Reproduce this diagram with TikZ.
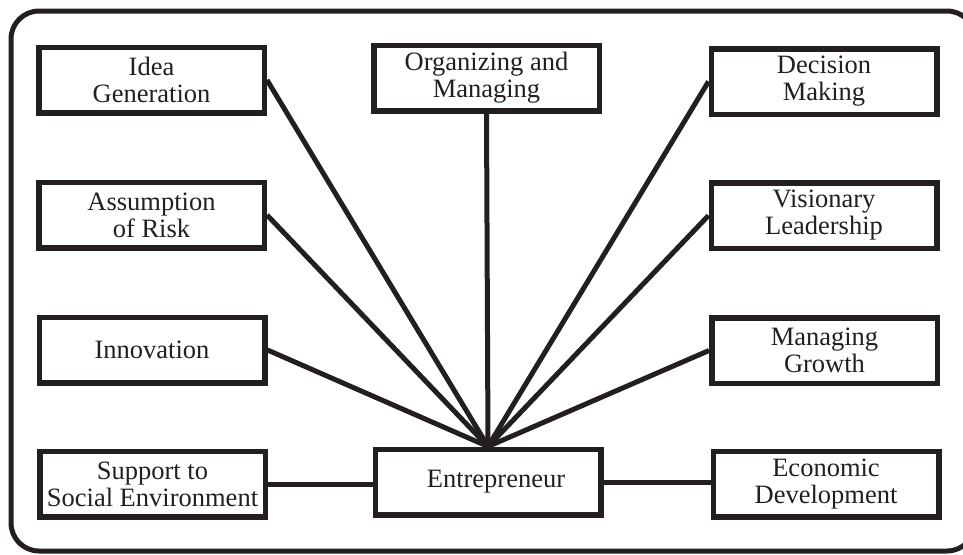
\documentclass[tikz,border=0pt]{standalone}
\usepackage{fontspec}
\setmainfont{Liberation Serif}
\definecolor{ink}{RGB}{35,31,32}
\begin{document}
\begin{tikzpicture}[x=1pt,y=-1pt,
  role/.style={draw=ink, text=ink, line width=5.5pt, minimum width=225.5pt,
    minimum height=65.5pt, inner sep=0pt, align=center, fill=white,
    font=\fontsize{26.5}{27}\selectfont},
  link/.style={draw=ink, line width=5pt}]
\clip (0,0) rectangle (963,554);
% outer frame
\draw[ink, line width=5pt, rounded corners=28pt] (11,11) rectangle (975,551);
% left column
\node[role] (idea) at (151.5,80)  {Idea\\Generation};
\node[role] (risk) at (151.5,215) {Assumption\\of Risk};
\node[role] (inno) at (152,350)   {Innovation};
\node[role] (sup)  at (152.5,484) {Support to\\Social Environment};
% middle column
\node[role] (org)  at (486.5,78)  {Organizing and\\Managing};
\node[role] (ent)  at (488,482)   {\hspace*{16pt}Entrepreneur};
% right column
\node[role] (dec)  at (824,81.5)  {Decision\\Making};
\node[role] (vis)  at (824,215.5) {Visionary\\Leadership};
\node[role] (grow) at (824.5,350.5) {Managing\\Growth};
\node[role] (eco)  at (826,484)   {Economic\\Development};
% fan of links into the entrepreneur
\draw[link] (idea.east) -- (ent.north);
\draw[link] (risk.east) -- (ent.north);
\draw[link] (inno.east) -- (ent.north);
\draw[link] (org.south) -- (ent.north);
\draw[link] (dec.west)  -- (ent.north);
\draw[link] (vis.west)  -- (ent.north);
\draw[link] (grow.west) -- (ent.north);
% horizontal links on the bottom row
\draw[link] (sup.east) -- (sup.east -| ent.west);
\draw[link] (ent.east) -- (ent.east -| eco.west);
\end{tikzpicture}
\end{document}
